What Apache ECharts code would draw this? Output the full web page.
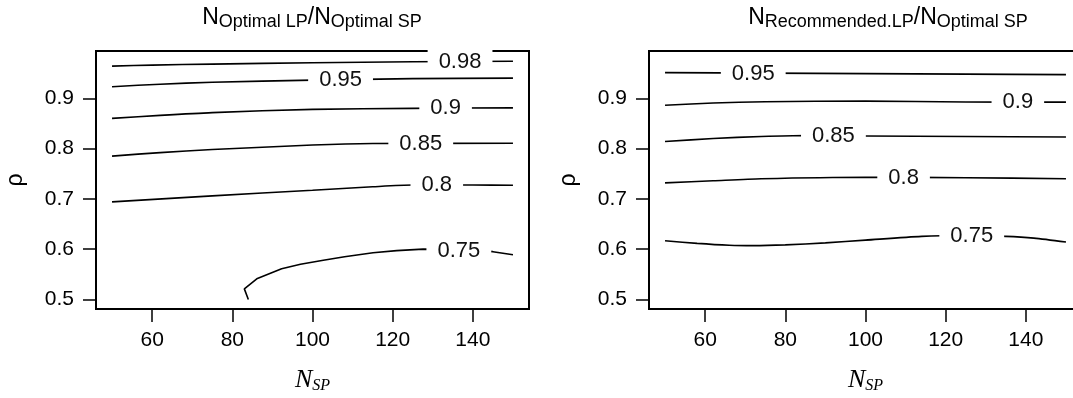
<!DOCTYPE html>
<html>
<head>
<meta charset="utf-8">
<script src="https://cdn.jsdelivr.net/npm/echarts@6/dist/echarts.min.js"></script>
<style>
html,body{margin:0;padding:0;background:#fff;}
#c{width:1073px;height:398px;}
</style>
</head>
<body>
<div id="c"></div>
<script>
// ---- data ----
const xTicks = [60, 80, 100, 120, 140];
const yTicks = [0.5, 0.6, 0.7, 0.8, 0.9];

// Left panel: N_Optimal LP / N_Optimal SP  (contour lines, [N_SP, rho])
const leftC098 = [[50,0.964],[60,0.966],[75,0.968],[100,0.9705],[125,0.9725],[150,0.9735]];
const leftC095 = [[50,0.923],[62,0.928],[75,0.932],[100,0.936],[125,0.939],[150,0.940]];
const leftC090 = [[50,0.860],[62,0.866],[75,0.8715],[100,0.878],[125,0.880],[150,0.881]];
const leftC085 = [[50,0.785],[62,0.792],[75,0.798],[100,0.807],[115,0.810],[150,0.8105]];
const leftC080 = [[50,0.694],[75,0.706],[100,0.717],[115,0.724],[125,0.7275],[140,0.7275],[150,0.727]];
const leftC075 = [[84.0,0.5],[83.0,0.521],[86.1,0.541],[92.3,0.561],[97,0.570],[102.7,0.578],[108,0.585],[115.1,0.593],[121,0.597],[127.6,0.600],[137,0.599],[145,0.595],[150,0.589]];
// contour label positions [N_SP, rho, text]
const leftLabels = [[136.8,0.9725,'0.98'],[107,0.937,'0.95'],[133.2,0.880,'0.9'],[127,0.810,'0.85'],[131,0.7275,'0.8'],[136.5,0.597,'0.75']];

// Right panel: N_Recommended.LP / N_Optimal SP
const rightC095 = [[50,0.951],[75,0.950],[100,0.949],[125,0.948],[150,0.947]];
const rightC090 = [[50,0.886],[62,0.8905],[75,0.893],[100,0.8944],[125,0.8925],[150,0.8924]];
const rightC085 = [[50,0.814],[62,0.820],[74,0.824],[85,0.826],[100,0.825],[125,0.824],[150,0.823]];
const rightC080 = [[50,0.7318],[62,0.736],[74,0.740],[100,0.743],[125,0.742],[150,0.740]];
const rightC075 = [[50,0.6168],[58,0.6115],[66,0.6078],[72,0.607],[80,0.6085],[90,0.6125],[100,0.618],[114,0.6254],[125,0.627],[135,0.6254],[142,0.622],[150,0.6142]];
const rightLabels = [[72,0.949,'0.95'],[138,0.893,'0.9'],[92,0.825,'0.85'],[109.5,0.7425,'0.8'],[126.5,0.626,'0.75']];

const leftContours = [leftC098, leftC095, leftC090, leftC085, leftC080, leftC075];
const rightContours = [rightC095, rightC090, rightC085, rightC080, rightC075];

// ---- chart ----
const FONT = "'Liberation Sans', Arial, sans-serif";
const SERIF = "'Liberation Serif', 'Times New Roman', serif";

function makeX(gi) {
  return {
    type: 'value', gridIndex: gi, min: 46, max: 154,
    splitLine: {show: false},
    axisLine: {show: true, lineStyle: {color: '#000', width: 2}},
    axisTick: {show: true, length: 13, customValues: xTicks, lineStyle: {color: '#000', width: 1.5}},
    axisLabel: {show: true, margin: 21, customValues: xTicks, color: '#000', fontSize: 21, fontFamily: FONT},
    name: '{n|N}{s|SP}', nameLocation: 'middle', nameGap: 57,
    nameTextStyle: {
      rich: {
        n: {fontFamily: SERIF, fontStyle: 'italic', fontSize: 26, color: '#000', lineHeight: 28},
        s: {fontFamily: SERIF, fontStyle: 'italic', fontSize: 16, color: '#000', lineHeight: 14, verticalAlign: 'bottom'}
      }
    }
  };
}
function makeY(gi) {
  return {
    type: 'value', gridIndex: gi, min: 0.481, max: 0.994,
    splitLine: {show: false},
    axisLine: {show: true, lineStyle: {color: '#000', width: 2}},
    axisTick: {show: true, length: 13, customValues: yTicks, lineStyle: {color: '#000', width: 1.5}},
    axisLabel: {show: true, margin: 22, customValues: yTicks, color: '#000', fontSize: 21, fontFamily: FONT,
      formatter: v => v.toFixed(1)},
    name: 'ρ', nameLocation: 'middle', nameGap: 69, nameRotate: 90,
    nameTextStyle: {fontFamily: FONT, fontSize: 23, color: '#000'}
  };
}

const series = [];
function addPanel(contours, labels, gi) {
  contours.forEach(c => {
    series.push({
      type: 'line', xAxisIndex: gi, yAxisIndex: gi, data: c,
      showSymbol: false, symbol: 'none', smooth: c === leftC075 ? 0 : 0.25, z: 2,
      lineStyle: {color: '#000', width: 1.6}, silent: true
    });
  });
  series.push({
    type: 'scatter', xAxisIndex: gi, yAxisIndex: gi, data: labels,
    symbolSize: 1, itemStyle: {color: 'rgba(0,0,0,0)'}, z: 5, silent: true,
    label: {
      show: true, position: 'inside', formatter: p => p.value[2],
      backgroundColor: '#fff', padding: [1, 11], color: '#111',
      textBorderWidth: 0, textBorderColor: 'transparent', opacity: 1,
      fontSize: 22, fontFamily: FONT
    }
  });
}
addPanel(leftContours, leftLabels, 0);
addPanel(rightContours, rightLabels, 1);

const titleRich = {
  m: {fontFamily: FONT, fontSize: 23, color: '#000', lineHeight: 26},
  s: {fontFamily: FONT, fontSize: 18, color: '#000', lineHeight: 16, verticalAlign: 'bottom'}
};

const option = {
  animation: false,
  backgroundColor: '#fff',
  grid: [
    {left: 96, top: 51, width: 433, height: 258, show: true, borderColor: '#000', borderWidth: 2, backgroundColor: 'transparent', containLabel: false, outerBoundsMode: 'none'},
    {left: 649, top: 51, width: 433, height: 258, show: true, borderColor: '#000', borderWidth: 2, backgroundColor: 'transparent', containLabel: false, outerBoundsMode: 'none'}
  ],
  xAxis: [makeX(0), makeX(1)],
  yAxis: [makeY(0), makeY(1)],
  graphic: [
    {type: 'text', x: 312, y: 5, style: {text: '{m|N}{s|Optimal LP}{m|/N}{s|Optimal SP}', rich: titleRich, align: 'center', verticalAlign: 'top'}},
    {type: 'text', x: 888, y: 5, style: {text: '{m|N}{s|Recommended.LP}{m|/N}{s|Optimal SP}', rich: titleRich, align: 'center', verticalAlign: 'top'}}
  ],
  series: series
};

const chart = echarts.init(document.getElementById('c'), null, {renderer: 'canvas'});
chart.setOption(option);
</script>
</body>
</html>
